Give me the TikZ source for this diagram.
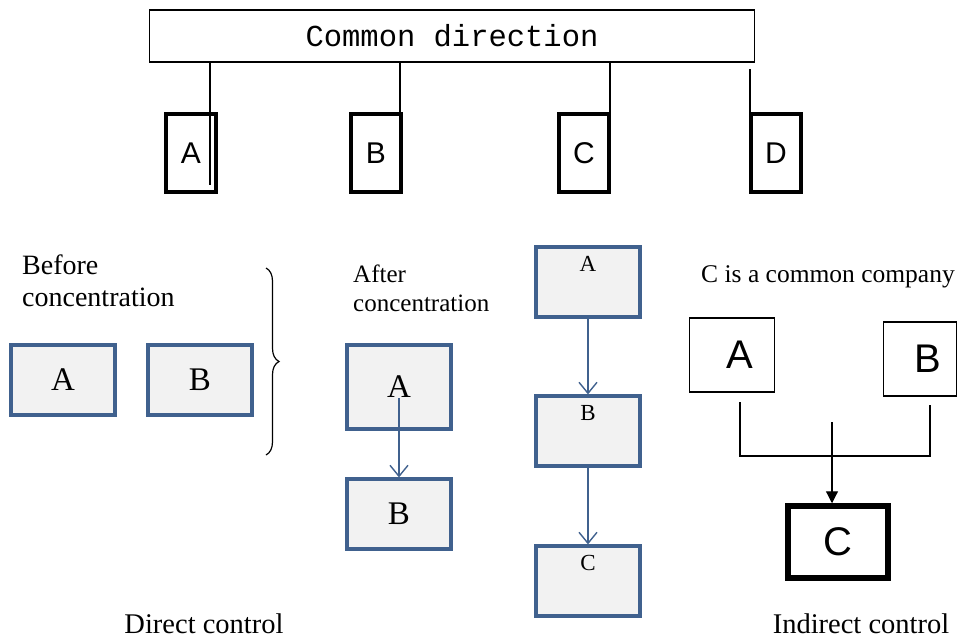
\documentclass[tikz,border=0pt]{standalone}
\usepackage{fontspec}
\setmainfont{Liberation Serif}
\setsansfont{Liberation Sans}
\setmonofont{Liberation Mono}
\usetikzlibrary{arrows.meta,decorations.pathreplacing}
\definecolor{boxblue}{HTML}{40618E}
\definecolor{boxfill}{HTML}{F2F2F2}

\begin{document}
\begin{tikzpicture}[x=1pt,y=-1pt,
			firm/.style={draw,line width=4.5pt,minimum width=50pt,minimum height=78pt,inner sep=0pt,font=\sffamily\fontsize{30}{30}\selectfont},
			unit/.style={draw=boxblue,fill=boxfill,line width=3.2pt,minimum width=104pt,minimum height=70pt,inner sep=0pt,font=\fontsize{33}{33}\selectfont},
			small unit/.style={unit,font=\fontsize{23}{23}\selectfont},
			tag/.style={anchor=north,inner sep=0pt,yshift=-11pt,font=\fontsize{23}{23}\selectfont},
			plain/.style={draw,line width=1.3pt,inner sep=0pt,font=\sffamily\fontsize{40}{40}\selectfont},
			ptag/.style={inner sep=0pt,xshift=8pt,font=\sffamily\fontsize{40}{40}\selectfont},
			link/.style={line width=1.2pt},
			flow/.style={boxblue,line width=1.4pt,-{Straight Barb[length=11pt,width=18pt]}},
			note/.style={align=left,anchor=west,inner sep=0pt,font=\fontsize{28}{32}\selectfont}]
			\useasboundingbox (0,0) rectangle (962,638);
			% common direction
			\node[draw,line width=1.5pt,minimum width=605pt,minimum height=52pt,inner sep=0pt,font=\ttfamily\fontsize{30.5}{30.5}\selectfont] (dir) at (452,36) {Common direction};
			\node[firm] (fa) at (191,153) {A};
			\node[firm] (fb) at (376,153) {B};
			\node[firm] (fc) at (584,153) {C};
			\node[firm] (fd) at (776,153) {D};
			\coordinate (ta) at (210,185);
			\coordinate (tb) at (400,62);
			\coordinate (tc) at (610,62);
			\coordinate (td) at (750,69);
			\draw[link] (dir.south -| ta) -- (ta);
			\draw[link] (dir.south -| tb) -- (fb.north -| tb);
			\draw[link] (dir.south -| tc) -- (fc.north -| tc);
			\draw[link] (td) -- (fd.north -| td);
			% direct control
			\node[note] (before) at (22,281) {Before\\concentration};
			\node[unit] (ba) at (63,380) {A};
			\node[unit] (bb) at (200,380) {B};
			\coordinate (br1) at (266,268);
			\coordinate (br2) at (266,455);
			\draw[line width=1.2pt,decorate,decoration={brace,amplitude=13pt,aspect=0.5}] (br1) -- (br2);
			\node[note,font=\fontsize{25}{29}\selectfont] (after) at (353,288) {After\\concentration};
			\node[unit,minimum height=84pt] (aa) at (399,387) {A};
			\node[unit] (ab) at (399,514) {B};
			\coordinate (aa0) at (399,398);
			\draw[flow] (aa0) -- (ab.north);
			\node[small unit,label={[tag]north:A}] (ca) at (588,282) {};
			\node[small unit,label={[tag]north:B}] (cb) at (588,431) {};
			\node[small unit,label={[tag]north:C}] (cc) at (588,581) {};
			\draw[flow] (ca) -- (cb);
			\draw[flow] (cb) -- (cc);
			\node[font=\fontsize{28.5}{28.5}\selectfont] (dc) at (204,624) {Direct control};
			% indirect control
			\node[font=\fontsize{25.5}{25.5}\selectfont] (common) at (828,277) {C is a common company};
			\node[plain,minimum width=85pt,minimum height=74pt,label={[ptag]center:A}] (ia) at (732,355) {};
			\node[plain,minimum width=73pt,minimum height=74pt,label={[ptag]center:B}] (ib) at (920,359) {};
			\node[plain,line width=5.5pt,minimum width=100pt,minimum height=72pt] (ic) at (838,542) {C};
			\coordinate (la) at (740,402);
			\coordinate (lb) at (930,405);
			\coordinate (lh) at (930,456);
			\coordinate (lm) at (832,422);
			\draw[link] (la) |- (lh) -- (lb);
			\draw[link,-{Triangle[length=12pt,width=12pt]}] (lm) -- (lm |- ic.north);
			\node[font=\fontsize{28.5}{28.5}\selectfont] (ic2) at (861,624) {Indirect control};
		\end{tikzpicture}
\end{document}
